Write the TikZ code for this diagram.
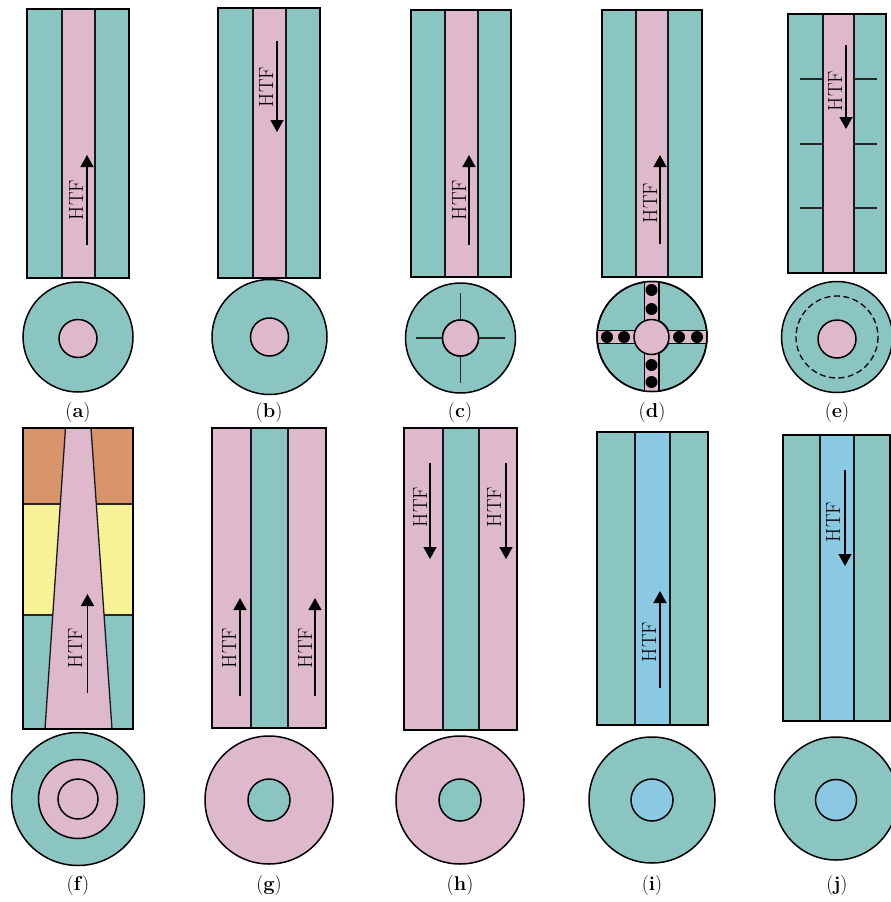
\documentclass[tikz,border=0pt]{standalone}
\usepackage{fontspec}
\usetikzlibrary{arrows.meta}
\definecolor{teal1}{HTML}{8AC5C1}
\definecolor{pink1}{HTML}{DEB8CB}
\definecolor{blue1}{HTML}{8BC9E3}
\definecolor{orange1}{HTML}{D8956B}
\definecolor{yellow1}{HTML}{F8F296}
\tikzset{
  wall/.style={draw=black!90,line width=1.3pt},
  frame/.style={draw=black,line width=2pt},
  ring/.style={draw=black,line width=1.5pt},
  fin/.style={draw=black!85,line width=1.1pt},
  flow/.style={draw=black,line width=1.5pt,-{Stealth[length=12pt,width=13pt,inset=0pt]}},
  htf/.style={rotate=90,inner sep=0pt,font=\fontsize{20.5}{22}\selectfont,text=black},
  panel/.style={inner sep=0pt,font=\fontsize{20}{22}\selectfont}
}
% tube: x0 x1 x2 x3 ytop ybot outer inner
\newcommand{\tubeview}[8]{%
  \fill[#7] (#1,#5) rectangle (#4,#6);
  \fill[#8] (#2,#5) rectangle (#3,#6);
  \draw[wall] (#2,#5) -- (#2,#6) (#3,#5) -- (#3,#6);
  \draw[frame] (#1,#5) rectangle (#4,#6);
}
% cross: cx cy R cy2 r outer inner
\newcommand{\crossview}[7]{%
  \draw[ring,fill=#6] (#1,#2) circle[radius=#3];
  \draw[ring,fill=#7] (#1,#4) circle[radius=#5];
}
% flow arrow: name x ystart yend textx texty
\newcommand{\flowarrow}[6]{%
  \coordinate (#1s) at (#2,#3);
  \coordinate (#1e) at (#2,#4);
  \draw[flow] (#1s) -- (#1e);
  \node[htf] (#1t) at (#5,#6) {HTF};
}
\begin{document}
\begin{tikzpicture}[x=1pt,y=-1pt]
\clip (0,0) rectangle (891,902);
\fill[white] (0,0) rectangle (891,902);
% (a)
\tubeview{27}{62}{95}{129}{9}{278}{teal1}{pink1}
\crossview{78}{337}{55}{338.5}{19}{teal1}{pink1}
\flowarrow{a}{87}{245}{155}{76}{200}
\node[panel] (la) at (78,413) {(\textbf{a})};
% (b)
\tubeview{218}{253}{286}{320}{8}{278}{teal1}{pink1}
\crossview{269.5}{337}{57.5}{337}{19}{teal1}{pink1}
\flowarrow{b}{277}{41}{132}{266}{87}
\node[panel] (lb) at (269,413) {(\textbf{b})};
% (c)
\tubeview{411}{445}{478}{511}{10}{277}{teal1}{pink1}
\crossview{460.5}{338}{55}{338}{18}{teal1}{pink1}
\draw[fin] (416,338) -- (505,338) (460.5,293) -- (460.5,383);
\draw[ring,fill=pink1] (460.5,338) circle[radius=18];
\flowarrow{c}{469}{245}{155}{459}{200}
\node[panel] (lc) at (460,413) {(\textbf{c})};
% (d)
\tubeview{602}{636}{668}{702}{10}{277}{teal1}{pink1}
\crossview{652}{336.5}{55}{337}{17.5}{teal1}{pink1}
\begin{scope}
\clip (652,336.5) circle[radius=55];
\draw[ring,fill=pink1] (644.5,275) rectangle (659,398);
\draw[ring,fill=pink1] (590,330.5) rectangle (714,343.5);
\fill[pink1] (645.2,331.2) rectangle (658.3,342.8);
\end{scope}
\draw[ring] (652,336.5) circle[radius=55];
\draw[ring,fill=pink1] (651.5,337) circle[radius=17.5];
\foreach \yy in {290,309,365,382} \fill[black] (651.5,\yy) circle[radius=6];
\foreach \xx in {607,624,679,697} \fill[black] (\xx,337) circle[radius=6];
\flowarrow{d}{660}{244}{155}{650}{203}
\node[panel] (ld) at (652,413) {(\textbf{d})};
% (e)
\tubeview{788}{823}{854}{886}{14}{273}{teal1}{pink1}
\draw[fin] (800,79) -- (823,79) (854,79) -- (877,79)
           (800,144) -- (823,144) (854,144) -- (877,144)
           (800,208) -- (823,208) (854,208) -- (877,208);
\crossview{837}{337}{55.5}{339}{19}{teal1}{pink1}
\draw[line width=1.3pt,dash pattern=on 6pt off 3.5pt] (837,337) circle[radius=41];
\flowarrow{e}{846}{45}{129}{835}{91}
\node[panel] (le) at (837,413) {(\textbf{e})};
% (f)
\fill[teal1] (23,615) rectangle (133,729);
\fill[yellow1] (23,504) rectangle (133,615);
\fill[orange1] (23,428) rectangle (133,504);
\draw[fin] (23,504) -- (133,504) (23,615) -- (133,615);
\draw[wall,fill=pink1] (65.5,428) -- (45,729) -- (112,729) -- (91,428) -- cycle;
\draw[frame] (23,428) rectangle (133,729);
\draw[ring,fill=teal1] (78,799) circle[radius=66.5];
\draw[ring,fill=pink1] (78,799) circle[radius=39.5];
\draw[ring,fill=pink1] (78,799) circle[radius=20];
\flowarrow{f}{87.5}{693}{594}{75}{648}
\node[panel] (lf) at (78,885) {(\textbf{f})};
% (g)
\tubeview{212}{251}{288}{326}{428}{728}{pink1}{teal1}
\crossview{269}{800}{64}{800}{21}{pink1}{teal1}
\flowarrow{g1}{240}{696}{598}{229}{648}
\flowarrow{g2}{315}{696}{598}{305}{648}
\node[panel] (lg) at (269,885) {(\textbf{g})};
% (h)
\tubeview{404}{443}{479}{517}{428}{730}{pink1}{teal1}
\crossview{460}{800}{64}{800}{21}{pink1}{teal1}
\flowarrow{h1}{430}{463}{559}{420}{507}
\flowarrow{h2}{506}{463}{559}{494}{507}
\node[panel] (lh) at (460,885) {(\textbf{h})};
% (i)
\tubeview{597}{635}{670}{708}{432}{725}{teal1}{blue1}
\crossview{652}{800}{63}{800}{21}{teal1}{blue1}
\flowarrow{i}{660}{688}{591}{649}{642}
\node[panel] (li) at (652,885) {(\textbf{i})};
% (j)
\tubeview{783}{820}{854}{890}{435}{721}{teal1}{blue1}
\crossview{836}{798.5}{61.5}{800}{20.5}{teal1}{blue1}
\flowarrow{j}{845}{470}{566}{833}{522}
\node[panel] (lj) at (837,885) {(\textbf{j})};
\end{tikzpicture}
\end{document}
